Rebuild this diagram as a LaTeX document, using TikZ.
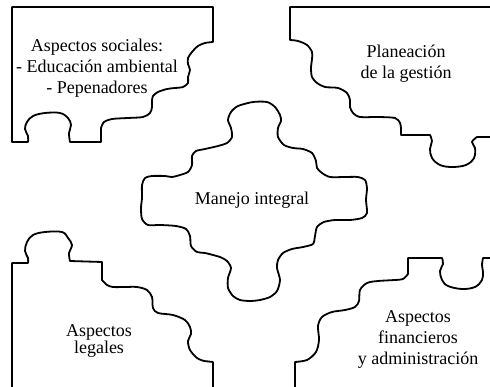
\documentclass[tikz,border=0pt]{standalone}
\usepackage{fontspec}
\setmainfont{Liberation Serif}
\begin{document}
\begin{tikzpicture}[x=1pt,y=-1pt,
  piece/.style={draw=black,line width=1.8pt,line join=round,line cap=round},
  lbl/.style={align=center,inner sep=0pt,font=\fontsize{18}{21}\selectfont},
  lbltight/.style={align=center,inner sep=0pt,font=\fontsize{18}{17}\selectfont}]
\useasboundingbox (0,0) rectangle (490,387);
% top-left piece
\draw[piece] (12,142) -- (12,7) -- (213,7) -- (213,42)
  -- plot[smooth,tension=0.5] coordinates {(213,42) (205,43) (198,46) (192,52) (188,58) (188,64) (190,70) (188,77) (188,83) (183,87) (175,88) (167,89) (158,92) (153,96) (152,101) (152,107) (150,113) (143,117) (128,118) (112,119) (104,122) (101,128)}
  -- (101,142) -- (70,142)
  -- plot[smooth,tension=0.6] coordinates {(70,142) (69,133) (71,125) (68,118) (60,113) (45,113) (33,116) (27,122) (25,129) (28,136) (28,142)}
  -- cycle;
% top-right piece
\draw[piece] (492,7) -- (290,7) -- (290,40)
  -- plot[smooth,tension=0.5] coordinates {(290,40) (298,41) (307,45) (312,52) (312,59) (311,68) (312,77) (317,83) (325,87) (338,88) (347,93) (350,100) (350,107) (353,113) (360,117) (378,117) (395,118) (400,123) (401,129)}
  -- (401,135) -- (430,135)
  -- plot[smooth,tension=0.6] coordinates {(430,135) (432,141) (430,149) (432,158) (440,165) (452,167) (466,165) (474,158) (475,148) (472,142) (477,137)}
  -- (492,137);
% bottom-left piece
\draw[piece] (12,389) -- (12,263) -- (28,263)
  -- plot[smooth,tension=0.6] coordinates {(28,263) (28,258) (25,251) (27,242) (33,235) (45,232) (62,232) (68,238) (72,245) (69,253) (70,261)}
  -- (102,262) -- (102,280)
  -- plot[smooth,tension=0.5] coordinates {(102,280) (107,285) (113,287) (125,287) (137,287) (147,290) (152,297) (153,308) (158,313) (173,315) (185,320) (190,327) (191,334) (188,341) (190,350) (197,358) (204,361)}
  -- (213,362) -- (213,389);
% bottom-right piece
\draw[piece] (295,389) -- (295,362)
  -- plot[smooth,tension=0.5] coordinates {(295,362) (307,360) (316,352) (319,340) (318,326) (322,317) (332,312) (345,310) (355,307) (359,301) (360,290) (367,283) (378,281) (395,280) (403,279) (408,274)}
  -- (408,258) -- (442,258)
  -- plot[smooth,tension=0.6] coordinates {(442,258) (443,264) (440,271) (442,280) (448,286) (462,289) (475,287) (482,280) (483,272) (482,265) (483,258)}
  -- (492,258);
% centre piece
\draw[piece] plot[smooth cycle,tension=0.45] coordinates {
  (253,102) (267,102) (275,107) (280,115) (281,121) (278,128) (278,137) (284,145) (293,148) (303,149) (312,153) (316,161) (317,168) (322,173) (330,177) (345,177) (358,177) (365,180)
  (367,188) (366,200) (367,213) (362,218) (350,220) (335,220) (324,222) (317,227) (315,236) (313,244) (303,247) (292,249) (283,253) (278,260) (277,268) (280,280) (277,291) (270,297) (260,300)
  (250,301) (240,300) (233,296) (228,288) (228,278) (231,268) (227,261) (220,257) (205,253) (197,252) (191,246) (190,236) (186,229) (176,226) (160,225) (148,225) (142,219) (141,208)
  (142,198) (142,185) (145,178) (152,176) (165,176) (172,177) (180,175) (188,172) (192,165) (192,156) (196,151) (205,149) (218,146) (227,143) (232,137) (231,128) (228,120) (231,112) (238,106)};
% labels
\node[lbl] (social) at (97,68) {Aspectos sociales:\\- Educación ambiental\\- Pepenadores};
\node[lbl] (plan) at (406,64) {Planeación\\de la gestión};
\node[lbl] (manejo) at (252,200) {Manejo integral};
\node[lbltight] (legal) at (99,341) {Aspectos\\legales};
\node[lbl] (finan) at (418,340) {Aspectos\\financieros\\y administración};
\end{tikzpicture}
\end{document}
